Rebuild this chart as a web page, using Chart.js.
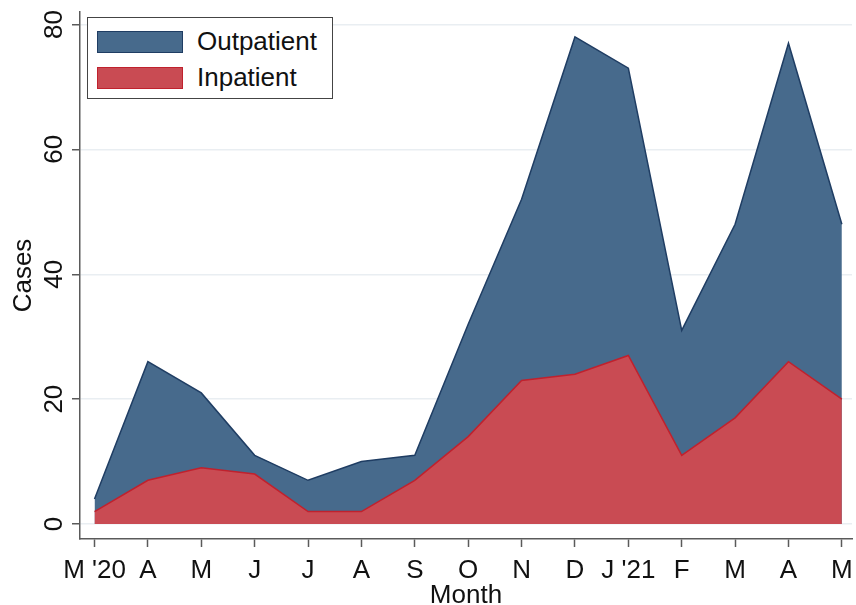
<!DOCTYPE html>
<html lang="en">
<head>
    <meta charset="UTF-8">
    <title>Cases by month</title>
    <script src="https://cdn.jsdelivr.net/npm/chart.js"></script>
    <style>
        html, body { margin: 0; padding: 0; background: #fff; }
        #wrap { position: relative; width: 856px; height: 605px; }
        #legend {
            position: absolute; left: 87px; top: 17px; width: 246px; height: 82px;
            border: 1px solid #444; background: #fff; box-sizing: border-box;
            font-family: "Liberation Sans", Arial, sans-serif; font-size: 26px; color: #111;
        }
        .row { position: absolute; left: 9px; height: 22px; }
        .sw { position: absolute; left: 0; top: 0; width: 86px; height: 22px; box-sizing: border-box; }
        .lab { position: absolute; left: 100px; top: -5px; line-height: 30px; white-space: nowrap; }
    </style>
</head>
<body>
<div id="wrap">
    <canvas id="chart" width="856" height="605"></canvas>
    <div id="legend">
        <div class="row" style="top:13px"><div class="sw" id="swOut"></div><div class="lab">Outpatient</div></div>
        <div class="row" style="top:49px"><div class="sw" id="swIn"></div><div class="lab">Inpatient</div></div>
    </div>
</div>
<script>
    // data
    const months = ["M '20", 'A', 'M', 'J', 'J', 'A', 'S', 'O', 'N', 'D', "J '21", 'F', 'M', 'A', 'M'];
    const outpatient = [4, 26, 21, 11, 7, 10, 11, 32, 52, 78, 73, 31, 48, 77, 48];  // top of blue area
    const inpatient = [2, 7, 9, 8, 2, 2, 7, 14, 23, 24, 27, 11, 17, 26, 20];
    const yTicks = [0, 20, 40, 60, 80];

    const FONT = '"Liberation Sans", Arial, sans-serif';
    const blueFill = '#476a8c', blueLine = '#1f3d63';
    const redFill = '#c94b53', redLine = '#c0212d';
    const axisCol = '#5a5a5a';

    document.getElementById('swOut').style.cssText += `background:${blueFill};border:1.5px solid ${blueLine};`;
    document.getElementById('swIn').style.cssText += `background:${redFill};border:1.5px solid ${redLine};`;

    // y tick labels are rotated in the original, so they are drawn here
    const yLabels = {
        id: 'yLabels',
        afterDraw(chart) {
            const ctx = chart.ctx, y = chart.scales.y;
            ctx.save();
            ctx.font = '26px ' + FONT;
            ctx.fillStyle = '#111';
            ctx.textAlign = 'center';
            ctx.textBaseline = 'alphabetic';
            yTicks.forEach(v => {
                ctx.save();
                ctx.translate(62, y.getPixelForValue(v));
                ctx.rotate(-Math.PI / 2);
                ctx.fillText(String(v), 0, 0);
                ctx.restore();
            });
            ctx.restore();
        }
    };

    new Chart(document.getElementById('chart'), {
        type: 'line',
        data: {
            datasets: [{
                label: 'Outpatient',
                data: outpatient.map((v, i) => ({ x: i, y: v })),
                backgroundColor: blueFill,
                borderColor: blueLine,
                borderWidth: 1.5,
                fill: 'origin',
                pointRadius: 0,
                tension: 0,
                order: 1
            }, {
                label: 'Inpatient',
                data: inpatient.map((v, i) => ({ x: i, y: v })),
                backgroundColor: redFill,
                borderColor: redLine,
                borderWidth: 1.5,
                fill: 'origin',
                pointRadius: 0,
                tension: 0,
                order: 0
            }]
        },
        options: {
            responsive: false,
            animation: false,
            layout: { padding: { top: 12, right: 4, left: 0, bottom: 0 } },
            plugins: { legend: { display: false }, tooltip: { enabled: false } },
            scales: {
                x: {
                    type: 'linear',
                    min: -0.272,
                    max: 14.19,
                    afterBuildTicks: s => { s.ticks = months.map((m, i) => ({ value: i })); },
                    afterFit: s => { s.height = 66; s.paddingLeft = 0; s.paddingRight = 0; },
                    ticks: {
                        callback: v => months[v],
                        autoSkip: false,
                        maxRotation: 0,
                        padding: 8,
                        color: '#111',
                        font: { family: FONT, size: 26 }
                    },
                    grid: { drawOnChartArea: false, drawTicks: true, tickLength: 8, tickColor: axisCol, tickWidth: 1.5 },
                    border: { display: true, color: axisCol, width: 1.5 },
                    title: {
                        display: true, text: 'Month', color: '#111',
                        font: { family: FONT, size: 26, lineHeight: 0.7 },
                        padding: { top: 0, bottom: 0 }
                    }
                },
                y: {
                    min: -2.4,
                    max: 82,
                    afterBuildTicks: s => { s.ticks = yTicks.map(v => ({ value: v })); },
                    afterFit: s => { s.width = 80; },
                    ticks: { display: false },
                    grid: { color: '#e9eef2', lineWidth: 1.5, drawTicks: true, tickLength: 8, tickColor: axisCol, tickWidth: 1.5 },
                    border: { display: true, color: axisCol, width: 1.5 },
                    title: {
                        display: true, text: 'Cases', color: '#111',
                        font: { family: FONT, size: 26, lineHeight: 1 },
                        padding: { top: 11, bottom: 0 }
                    }
                }
            }
        },
        plugins: [yLabels]
    });
</script>
</body>
</html>
